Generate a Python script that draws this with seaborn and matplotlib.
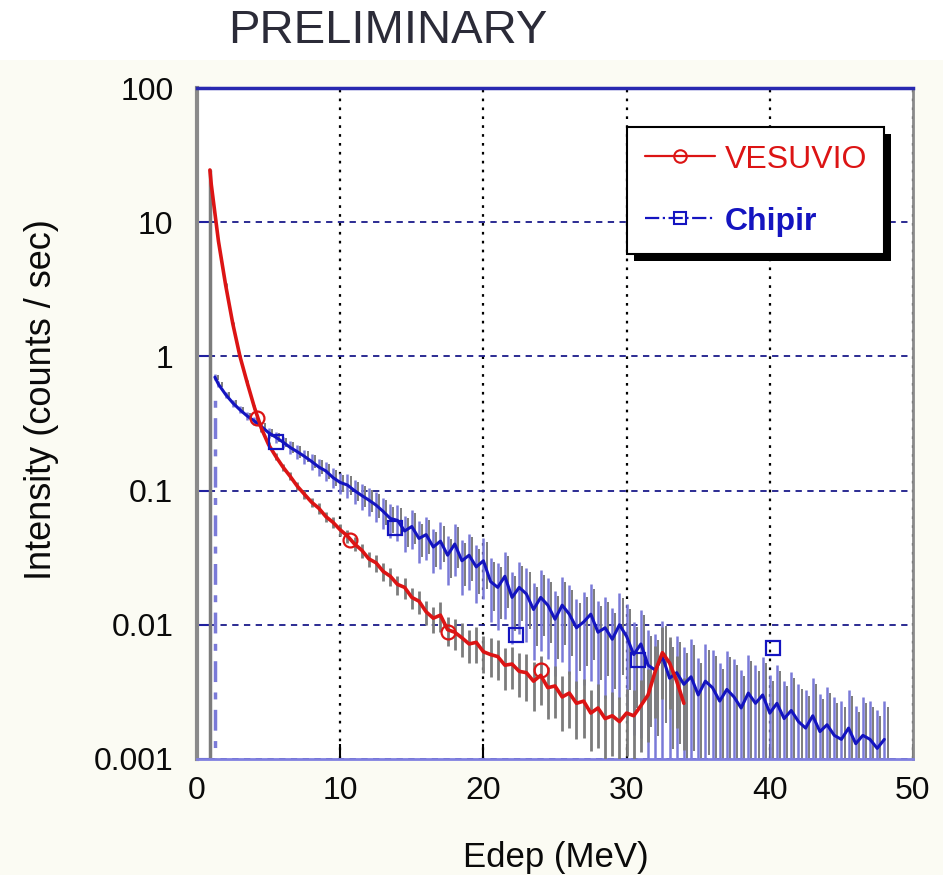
import matplotlib
matplotlib.use("Agg")
import matplotlib.pyplot as plt
import seaborn as sns
import pandas as pd
import numpy as np
from matplotlib.lines import Line2D
from matplotlib.patches import Rectangle
from matplotlib.ticker import NullLocator, FixedLocator, FixedFormatter
from matplotlib.transforms import IdentityTransform

# ---------------- data ----------------
vesuvio_E = [0.9, 1.0, 1.5, 2.0, 2.5, 3.0, 3.5, 4.0, 4.5, 5.0,
             5.5, 6.0, 6.5, 7.0, 7.5, 8.0, 8.5, 9.0, 9.5, 10.0,
             10.5, 11.0, 11.5, 12.0, 12.5, 13.0, 13.5, 14.0, 14.5, 15.0,
             15.5, 16.0, 16.5, 17.0, 17.5, 18.0, 18.5, 19.0, 19.5, 20.0,
             20.5, 21.0, 21.5, 22.0, 22.5, 23.0, 23.5, 24.0, 24.5, 25.0,
             25.5, 26.0, 26.5, 27.0, 27.5, 28.0, 28.5, 29.0, 29.5, 30.0,
             30.5, 31.0, 31.5, 32.0, 32.5, 33.0, 33.5, 34.0]
vesuvio_I = [24.5, 19.0, 7.2, 3.4, 1.75, 1.0, 0.64, 0.42, 0.29, 0.22,
             0.18, 0.15, 0.128, 0.108, 0.094, 0.082, 0.074, 0.064, 0.058, 0.051,
             0.046, 0.040, 0.036, 0.031, 0.029, 0.025, 0.023, 0.020, 0.0190, 0.0160,
             0.0150, 0.0125, 0.0112, 0.0118, 0.0092, 0.0088, 0.0080, 0.0072, 0.0074, 0.0063,
             0.0060, 0.0058, 0.0050, 0.0051, 0.0045, 0.0044, 0.0038, 0.0042, 0.0034, 0.0035,
             0.0029, 0.0031, 0.0026, 0.0027, 0.0022, 0.0024, 0.0020, 0.0021, 0.0019, 0.0022,
             0.0021, 0.0025, 0.0030, 0.0045, 0.0062, 0.0052, 0.0038, 0.0026]
vesuvio_relerr = [0.02, 0.02, 0.03, 0.03, 0.03, 0.03, 0.04, 0.04, 0.05, 0.05,
                  0.06, 0.06, 0.07, 0.07, 0.08, 0.08, 0.09, 0.09, 0.10, 0.10,
                  0.11, 0.12, 0.12, 0.13, 0.14, 0.15, 0.15, 0.16, 0.18, 0.18,
                  0.20, 0.20, 0.22, 0.25, 0.25, 0.26, 0.28, 0.28, 0.30, 0.30,
                  0.32, 0.33, 0.35, 0.35, 0.36, 0.38, 0.40, 0.40, 0.42, 0.42,
                  0.44, 0.45, 0.46, 0.47, 0.48, 0.50, 0.50, 0.50, 0.52, 0.52,
                  0.55, 0.55, 0.55, 0.55, 0.55, 0.55, 0.55, 0.55]

chipir_E = [1.25, 1.5, 2.0, 2.5, 3.0, 3.5, 4.0, 4.5, 5.0, 5.5,
            6.0, 6.5, 7.0, 7.5, 8.0, 8.5, 9.0, 9.5, 10.0, 10.5,
            11.0, 11.5, 12.0, 12.5, 13.0, 13.5, 14.0, 14.5, 15.0, 15.5,
            16.0, 16.5, 17.0, 17.5, 18.0, 18.5, 19.0, 19.5, 20.0, 20.5,
            21.0, 21.5, 22.0, 22.5, 23.0, 23.5, 24.0, 24.5, 25.0, 25.5,
            26.0, 26.5, 27.0, 27.5, 28.0, 28.5, 29.0, 29.5, 30.0, 30.5,
            31.0, 31.5, 32.0, 32.5, 33.0, 33.5, 34.0, 34.5, 35.0, 35.5,
            36.0, 36.5, 37.0, 37.5, 38.0, 38.5, 39.0, 39.5, 40.0, 40.5,
            41.0, 41.5, 42.0, 42.5, 43.0, 43.5, 44.0, 44.5, 45.0, 45.5,
            46.0, 46.5, 47.0, 47.5, 48.0]
chipir_I = [0.70, 0.62, 0.52, 0.45, 0.40, 0.36, 0.33, 0.30, 0.27, 0.25,
            0.23, 0.21, 0.195, 0.18, 0.165, 0.15, 0.14, 0.125, 0.115, 0.11,
            0.100, 0.092, 0.085, 0.078, 0.070, 0.062, 0.060, 0.050, 0.054, 0.044,
            0.047, 0.038, 0.042, 0.033, 0.040, 0.030, 0.033, 0.027, 0.030, 0.021,
            0.019, 0.023, 0.016, 0.019, 0.017, 0.013, 0.016, 0.014, 0.011, 0.014,
            0.012, 0.0095, 0.0105, 0.012, 0.0088, 0.0095, 0.0078, 0.0100, 0.0082, 0.0060,
            0.0072, 0.0050, 0.0046, 0.0058, 0.0040, 0.0044, 0.0036, 0.0041, 0.0030, 0.0038,
            0.0034, 0.0027, 0.0033, 0.0029, 0.0024, 0.0031, 0.0026, 0.0030, 0.0022, 0.0026,
            0.0020, 0.0023, 0.0019, 0.0017, 0.0021, 0.0016, 0.0018, 0.0015, 0.0014, 0.0017,
            0.0013, 0.0015, 0.0014, 0.0012, 0.0014]
chipir_relerr = [0.05, 0.05, 0.05, 0.06, 0.06, 0.07, 0.07, 0.08, 0.08, 0.09,
                 0.10, 0.11, 0.12, 0.12, 0.14, 0.15, 0.16, 0.17, 0.18, 0.20,
                 0.20, 0.22, 0.24, 0.25, 0.26, 0.28, 0.30, 0.30, 0.32, 0.34,
                 0.35, 0.36, 0.38, 0.40, 0.42, 0.44, 0.45, 0.46, 0.48, 0.50,
                 0.52, 0.52, 0.55, 0.55, 0.56, 0.58, 0.60, 0.60, 0.62, 0.62,
                 0.64, 0.65, 0.66, 0.68, 0.70, 0.70, 0.72, 0.72, 0.75, 0.75,
                 0.80, 0.82, 0.85, 0.85, 0.88, 0.88, 0.90, 0.90, 0.90, 0.90,
                 0.92, 0.92, 0.92, 0.92, 0.92, 0.92, 0.92, 0.92, 0.92, 0.92,
                 0.92, 0.92, 0.92, 0.92, 0.92, 0.92, 0.92, 0.92, 0.92, 0.92,
                 0.92, 0.92, 0.92, 0.92, 0.92]
chipir_edge_top = 0.52

vesuvio_marker_E = [4.2, 10.7, 17.5, 24.0]
vesuvio_marker_I = [0.35, 0.043, 0.0089, 0.0046]
chipir_marker_E = [5.5, 13.8, 22.3, 30.8, 40.2]
chipir_marker_I = [0.23, 0.053, 0.0084, 0.0055, 0.0067]

series_names = ["VESUVIO", "Chipir"]
x_ticks = [0, 10, 20, 30, 40, 50]
x_tick_labels = ["0", "10", "20", "30", "40", "50"]
y_ticks = [0.001, 0.01, 0.1, 1, 10, 100]
y_tick_labels = ["0.001", "0.01", "0.1", "1", "10", "100"]

# ---------------- styling ----------------
RED = "#dc1414"
BLUE = "#1414c0"
GRAY = "#7c7c7c"
LBLUE = "#7a7ad8"

sns.set_theme(style="white")
plt.rcParams["font.family"] = ["Liberation Sans", "DejaVu Sans"]

W, H = 943, 875
fig = plt.figure(figsize=(W / 100, H / 100), dpi=100, facecolor="#fbfbf3")
fig.patches.append(Rectangle((0, 1 - 60 / H), 1, 60 / H, transform=fig.transFigure,
                             facecolor="white", edgecolor="none", zorder=0))
ax = fig.add_axes([197 / W, 1 - 759 / H, 716 / W, 671 / H])
ax.set_facecolor("white")

ves = pd.DataFrame({"E": vesuvio_E, "I": vesuvio_I, "rel": vesuvio_relerr})
chi = pd.DataFrame({"E": chipir_E, "I": chipir_I, "rel": chipir_relerr})

# first-bin edges
ax.vlines(ves["E"].iloc[0], 1e-4, ves["I"].iloc[0], color=GRAY, lw=2.5, zorder=2)
ax.vlines(chi["E"].iloc[0], 1e-4, chipir_edge_top, color=LBLUE, lw=2.5,
          linestyles=(0, (6, 3, 2, 3)), zorder=2)

# error bars
ax.vlines(chi["E"], chi["I"] * (1 - chi["rel"]), chi["I"] * (1 + chi["rel"]),
          color=LBLUE, lw=1.8, zorder=2)
ax.vlines(chi["E"] + 0.22, chi["I"] * (1 - 0.8 * chi["rel"]), chi["I"] * (1 + 0.8 * chi["rel"]),
          color=GRAY, lw=1.4, zorder=2)
ax.vlines(ves["E"], ves["I"] * (1 - ves["rel"]), ves["I"] * (1 + ves["rel"]),
          color=GRAY, lw=2.0, zorder=3)

sns.lineplot(data=chi, x="E", y="I", ax=ax, color=BLUE, lw=2.2,
             estimator=None, sort=False, zorder=3)
sns.lineplot(data=ves, x="E", y="I", ax=ax, color=RED, lw=2.6,
             estimator=None, sort=False, zorder=4)

ax.plot(vesuvio_marker_E, vesuvio_marker_I, ls="none", marker="o", ms=10,
        mfc="none", mec=RED, mew=1.6, zorder=5)
ax.plot(chipir_marker_E, chipir_marker_I, ls="none", marker="s", ms=10,
        mfc="none", mec=BLUE, mew=1.6, zorder=5)

ax.set_yscale("log")
ax.set_xlim(0, 50)
ax.set_ylim(0.001, 100)
ax.xaxis.set_major_locator(FixedLocator(x_ticks))
ax.xaxis.set_major_formatter(FixedFormatter(x_tick_labels))
ax.yaxis.set_major_locator(FixedLocator(y_ticks))
ax.yaxis.set_major_formatter(FixedFormatter(y_tick_labels))
ax.yaxis.set_minor_locator(NullLocator())
ax.xaxis.set_minor_locator(NullLocator())

ax.xaxis.grid(True, color="black", linestyle=(0, (1.2, 2.8)), lw=1.6)
ax.yaxis.grid(True, color="#1a1a8a", linestyle=(0, (3.5, 3)), lw=1.3)
ax.set_axisbelow(True)

ax.tick_params(axis="x", direction="in", length=11, width=1.5, color="black",
               pad=12, labelsize=23, labelcolor="#0a0a0a", bottom=True)
ax.tick_params(axis="y", direction="in", length=10, width=1.5, color="#2020a0",
               pad=17, labelsize=23, labelcolor="#0a0a0a", left=True)

for side, col, lw in [("top", "#2828b0", 2.5), ("bottom", "#8080e0", 2.0),
                      ("left", "#8a8a8a", 3.0), ("right", "#8a8a8a", 2.0)]:
    ax.spines[side].set_visible(True)
    ax.spines[side].set_color(col)
    ax.spines[side].set_linewidth(lw)

ax.set_xlabel("Edep (MeV)", fontsize=25, color="#0a0a0a")
ax.set_ylabel("Intensity (counts / sec)", fontsize=26, color="#0a0a0a")
ax.xaxis.set_label_coords((556 - 197) / 716, (759 - 857) / 671)
ax.yaxis.set_label_coords((42 - 197) / 716, (759 - 400) / 671)
ax.xaxis.label.set_va("center")
ax.yaxis.label.set_va("center")

fig.text(388 / W, 1 - 31 / H, "PRELIMINARY", ha="center", va="center",
         fontsize=34, color="#2b2b38")

handles = [Line2D([], [], color=RED, lw=1.6, marker="o", ms=9, mfc="none", mec=RED, mew=1.5),
           Line2D([], [], color=BLUE, lw=1.6, ls="-.", marker="s", ms=9, mfc="none", mec=BLUE, mew=1.5)]
leg = ax.legend(handles, series_names, loc="upper left",
                bbox_to_anchor=((627 - 197) / 716, (759 - 127) / 671),
                fontsize=23, frameon=True, fancybox=False, framealpha=1,
                edgecolor="black", handlelength=2.2, handletextpad=0.3,
                borderpad=0.55, labelspacing=1.0, borderaxespad=0)
leg.get_frame().set_linewidth(1.5)
leg.set_zorder(6)
txts = leg.get_texts()
txts[0].set_color(RED)
txts[1].set_color(BLUE)
txts[1].set_fontweight("bold")

fig.canvas.draw()
bb = leg.get_frame().get_window_extent()
ax.add_patch(Rectangle((bb.x0 + 7, bb.y0 - 7), bb.width, bb.height, transform=IdentityTransform(),
                       facecolor="black", edgecolor="none", zorder=5.5, clip_on=False))

fig.savefig("out.png", dpi=100, facecolor=fig.get_facecolor())
